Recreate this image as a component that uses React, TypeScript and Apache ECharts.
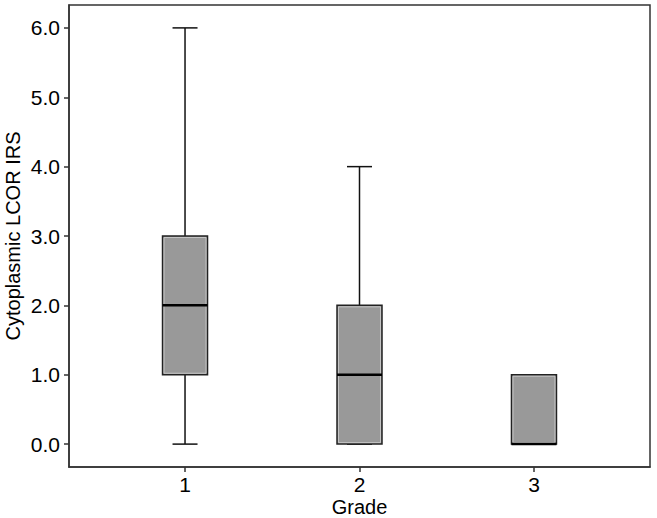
import React, { useEffect, useRef } from "react";
import * as echarts from "echarts";

const grades = [1, 2, 3];
const mins = [0, 0, 0];
const q1s = [1, 0, 0];
const medians = [2, 1, 0];
const q3s = [3, 2, 1];
const maxs = [6, 4, 1];
const yTicks = [0, 1, 2, 3, 4, 5, 6];

const FONT = "'Liberation Sans', Arial, sans-serif";

export default function App() {
  const ref = useRef<HTMLDivElement>(null);
  useEffect(() => {
    if (!ref.current) return;
    const chart = echarts.init(ref.current, undefined, { renderer: "svg" });
    const data = grades.map((g, i) => [g, mins[i], q1s[i], medians[i], q3s[i], maxs[i]]);
    const boxHalf = 22.5;
    const capHalf = 12.5;
    chart.setOption({
      animation: false,
      backgroundColor: "#ffffff",
      grid: {
        left: 69,
        right: 7,
        top: 5,
        bottom: 51,
        show: true,
        borderColor: "#333",
        borderWidth: 1.5,
        backgroundColor: "transparent",
        outerBoundsMode: "none",
        containLabel: false,
      },
      xAxis: {
        type: "value",
        min: 0.335,
        max: 3.665,
        splitLine: { show: false },
        axisLine: { show: true, onZero: false, lineStyle: { color: "#333", width: 1.5 } },
        axisTick: { show: true, customValues: grades, length: 5, lineStyle: { color: "#333", width: 1.5 } },
        axisLabel: {
          customValues: grades,
          color: "#000",
          fontFamily: FONT,
          fontSize: 21,
          margin: 7,
          formatter: (v: number) => String(v),
        },
        name: "Grade",
        nameLocation: "middle",
        nameGap: 28.5,
        nameMoveOverlap: false,
        nameTextStyle: { color: "#000", fontFamily: FONT, fontSize: 20, lineHeight: 22 },
      },
      yAxis: {
        type: "value",
        min: -0.33,
        max: 6.33,
        splitLine: { show: false },
        axisLine: { show: true, onZero: false, lineStyle: { color: "#333", width: 1.5 } },
        axisTick: { show: true, customValues: yTicks, length: 5, lineStyle: { color: "#333", width: 1.5 } },
        axisLabel: {
          customValues: yTicks,
          color: "#000",
          fontFamily: FONT,
          fontSize: 21,
          margin: 9,
          formatter: (v: number) => v.toFixed(1),
        },
        name: "Cytoplasmic LCOR IRS",
        nameLocation: "middle",
        nameGap: 45.5,
        nameMoveOverlap: false,
        nameTextStyle: { color: "#000", fontFamily: FONT, fontSize: 20, lineHeight: 22 },
      },
      series: [
        {
          type: "custom",
          data,
          encode: { x: 0, y: [1, 2, 3, 4, 5] },
          renderItem: (params: any, api: any) => {
            const x = api.value(0);
            const pMin = api.coord([x, api.value(1)]);
            const pQ1 = api.coord([x, api.value(2)]);
            const pMed = api.coord([x, api.value(3)]);
            const pQ3 = api.coord([x, api.value(4)]);
            const pMax = api.coord([x, api.value(5)]);
            const cx = pMin[0];
            const lineStyle = { stroke: "#111", lineWidth: 1.5 };
            return {
              type: "group",
              children: [
                { type: "line", shape: { x1: cx, y1: pMax[1], x2: cx, y2: pQ3[1] }, style: lineStyle },
                { type: "line", shape: { x1: cx, y1: pQ1[1], x2: cx, y2: pMin[1] }, style: lineStyle },
                { type: "line", shape: { x1: cx - capHalf, y1: pMax[1], x2: cx + capHalf, y2: pMax[1] }, style: lineStyle },
                { type: "line", shape: { x1: cx - capHalf, y1: pMin[1], x2: cx + capHalf, y2: pMin[1] }, style: lineStyle },
                {
                  type: "rect",
                  shape: { x: cx - boxHalf, y: pQ3[1], width: boxHalf * 2, height: pQ1[1] - pQ3[1] },
                  style: { fill: "#999999", stroke: "#222", lineWidth: 1.5 },
                },
                {
                  type: "rect",
                  shape: { x: cx - boxHalf + 1.5, y: pQ3[1] + 1.5, width: boxHalf * 2 - 3, height: pQ1[1] - pQ3[1] - 3 },
                  style: { fill: "none", stroke: "#cfcfcf", lineWidth: 0.8 },
                },
                {
                  type: "line",
                  shape: { x1: cx - boxHalf, y1: pMed[1], x2: cx + boxHalf, y2: pMed[1] },
                  style: { stroke: "#000", lineWidth: 2.5 },
                },
              ],
            };
          },
        },
      ],
    });
    return () => chart.dispose();
  }, []);
  return <div ref={ref} style={{ width: 657, height: 518, position: "absolute", left: 0, top: 0 }} />;
}
